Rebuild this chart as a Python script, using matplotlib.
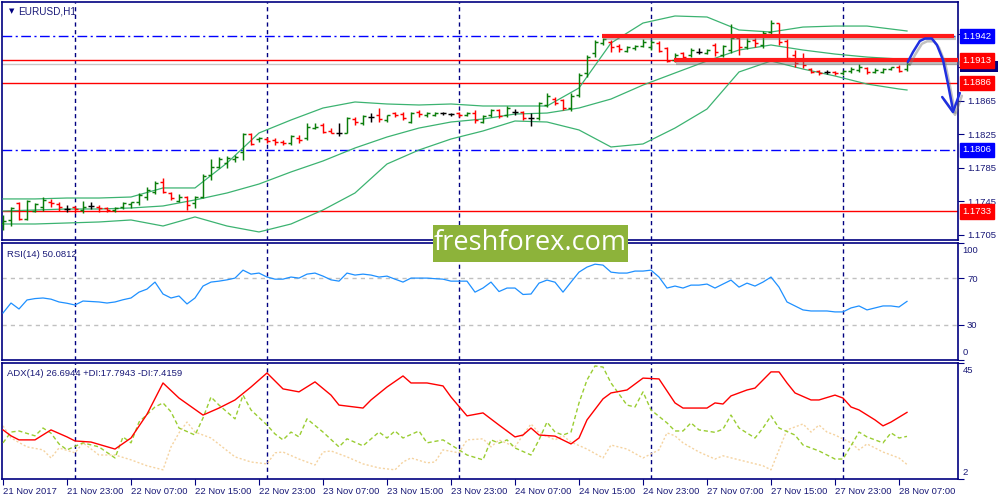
import matplotlib
matplotlib.use('Agg')
import matplotlib.pyplot as plt
import matplotlib.patheffects as pe
import matplotlib.transforms as mtransforms
from matplotlib.collections import LineCollection
from matplotlib.patches import Rectangle
import numpy as np

plt.rcParams['lines.scale_dashes'] = False
plt.rcParams['font.family'] = ['Liberation Sans', 'DejaVu Sans']

# ---------------- data ----------------
time_labels = ["21 Nov 2017", "21 Nov 23:00", "22 Nov 07:00", "22 Nov 15:00", "22 Nov 23:00",
               "23 Nov 07:00", "23 Nov 15:00", "23 Nov 23:00", "24 Nov 07:00", "24 Nov 15:00",
               "24 Nov 23:00", "27 Nov 07:00", "27 Nov 15:00", "27 Nov 23:00", "28 Nov 07:00"]
day_breaks = [9, 33, 57, 81, 105]

opens = [
    1.17189, 1.17225, 1.17428, 1.17237, 1.17332, 1.17380, 1.17440, 1.17416, 1.17356, 1.17380,
    1.17344, 1.17392, 1.17380, 1.17368, 1.17344, 1.17380, 1.17416, 1.17440, 1.17499, 1.17559,
    1.17678, 1.17547, 1.17452, 1.17499, 1.17428, 1.17499, 1.17762, 1.17857, 1.17905, 1.17952,
    1.18036, 1.18251, 1.18191, 1.18191, 1.18179, 1.18155, 1.18143, 1.18203, 1.18203, 1.18322,
    1.18358, 1.18287, 1.18263, 1.18263, 1.18430, 1.18382, 1.18454, 1.18478, 1.18418, 1.18501,
    1.18489, 1.18394, 1.18513, 1.18478, 1.18478, 1.18501, 1.18489, 1.18501, 1.18478, 1.18501,
    1.18394, 1.18478, 1.18537, 1.18478, 1.18513, 1.18513, 1.18442, 1.18442, 1.18597, 1.18668,
    1.18656, 1.18561, 1.18716, 1.18979, 1.19217, 1.19336, 1.19348, 1.19301, 1.19241, 1.19277,
    1.19301, 1.19289, 1.19336, 1.19277, 1.19134, 1.19217, 1.19193, 1.19229, 1.19217, 1.19313,
    1.19193, 1.19253, 1.19396, 1.19289, 1.19372, 1.19313, 1.19468, 1.19575, 1.19360, 1.19193,
    1.19134, 1.19026, 1.19002, 1.18991, 1.18991, 1.18979, 1.19002, 1.19014, 1.19038, 1.18991,
    1.18991, 1.19026, 1.19050, 1.19026]
highs = [
    1.17285, 1.17380, 1.17440, 1.17464, 1.17428, 1.17499, 1.17476, 1.17440, 1.17404, 1.17392,
    1.17452, 1.17440, 1.17404, 1.17380, 1.17380, 1.17440, 1.17440, 1.17547, 1.17619, 1.17690,
    1.17726, 1.17559, 1.17535, 1.17511, 1.17511, 1.17774, 1.17952, 1.17976, 1.17988, 1.18000,
    1.18263, 1.18263, 1.18215, 1.18215, 1.18203, 1.18179, 1.18239, 1.18239, 1.18382, 1.18382,
    1.18382, 1.18322, 1.18382, 1.18454, 1.18454, 1.18478, 1.18501, 1.18561, 1.18478, 1.18513,
    1.18513, 1.18513, 1.18537, 1.18513, 1.18513, 1.18513, 1.18501, 1.18513, 1.18513, 1.18537,
    1.18478, 1.18549, 1.18549, 1.18585, 1.18549, 1.18525, 1.18501, 1.18633, 1.18740, 1.18692,
    1.18668, 1.18740, 1.18979, 1.19193, 1.19372, 1.19396, 1.19372, 1.19325, 1.19301, 1.19313,
    1.19384, 1.19372, 1.19360, 1.19289, 1.19217, 1.19229, 1.19277, 1.19277, 1.19265, 1.19336,
    1.19313, 1.19563, 1.19408, 1.19396, 1.19396, 1.19480, 1.19611, 1.19575, 1.19384, 1.19253,
    1.19217, 1.19038, 1.19014, 1.19014, 1.19002, 1.19014, 1.19050, 1.19086, 1.19050, 1.19038,
    1.19038, 1.19050, 1.19074, 1.19110]
lows = [
    1.17106, 1.17153, 1.17225, 1.17225, 1.17320, 1.17332, 1.17380, 1.17332, 1.17320, 1.17308,
    1.17308, 1.17356, 1.17320, 1.17320, 1.17320, 1.17356, 1.17368, 1.17404, 1.17464, 1.17535,
    1.17547, 1.17464, 1.17440, 1.17344, 1.17368, 1.17487, 1.17702, 1.17845, 1.17845, 1.17917,
    1.17941, 1.18120, 1.18155, 1.18143, 1.18120, 1.18120, 1.18120, 1.18143, 1.18179, 1.18310,
    1.18263, 1.18263, 1.18227, 1.18263, 1.18358, 1.18358, 1.18394, 1.18394, 1.18394, 1.18454,
    1.18418, 1.18382, 1.18454, 1.18454, 1.18466, 1.18478, 1.18466, 1.18454, 1.18466, 1.18382,
    1.18382, 1.18454, 1.18442, 1.18454, 1.18478, 1.18418, 1.18346, 1.18418, 1.18573, 1.18597,
    1.18537, 1.18525, 1.18692, 1.18931, 1.19169, 1.19313, 1.19229, 1.19229, 1.19229, 1.19253,
    1.19289, 1.19253, 1.19229, 1.19110, 1.19110, 1.19134, 1.19169, 1.19205, 1.19205, 1.19181,
    1.19169, 1.19217, 1.19193, 1.19265, 1.19289, 1.19277, 1.19408, 1.19313, 1.19134, 1.19050,
    1.19038, 1.18979, 1.18955, 1.18967, 1.18955, 1.18955, 1.18979, 1.18991, 1.18967, 1.18979,
    1.18979, 1.19014, 1.18991, 1.19002]
closes = [
    1.17213, 1.17368, 1.17237, 1.17452, 1.17416, 1.17464, 1.17428, 1.17380, 1.17356, 1.17356,
    1.17380, 1.17392, 1.17368, 1.17344, 1.17368, 1.17428, 1.17440, 1.17523, 1.17583, 1.17666,
    1.17559, 1.17487, 1.17499, 1.17404, 1.17499, 1.17750, 1.17857, 1.17952, 1.17964, 1.17976,
    1.18251, 1.18132, 1.18203, 1.18167, 1.18155, 1.18143, 1.18227, 1.18179, 1.18334, 1.18334,
    1.18275, 1.18263, 1.18263, 1.18442, 1.18394, 1.18466, 1.18454, 1.18430, 1.18478, 1.18478,
    1.18442, 1.18501, 1.18489, 1.18501, 1.18501, 1.18501, 1.18489, 1.18478, 1.18501, 1.18418,
    1.18466, 1.18537, 1.18466, 1.18561, 1.18513, 1.18442, 1.18442, 1.18621, 1.18704, 1.18621,
    1.18561, 1.18704, 1.18955, 1.19169, 1.19348, 1.19384, 1.19289, 1.19265, 1.19289, 1.19301,
    1.19348, 1.19348, 1.19241, 1.19122, 1.19193, 1.19169, 1.19253, 1.19229, 1.19253, 1.19229,
    1.19301, 1.19396, 1.19289, 1.19360, 1.19336, 1.19456, 1.19575, 1.19348, 1.19158, 1.19098,
    1.19074, 1.18991, 1.18979, 1.18991, 1.18979, 1.19002, 1.19026, 1.19050, 1.18991, 1.19014,
    1.19026, 1.19050, 1.19002, 1.19086]

band_idx = [0, 4, 8, 12, 16, 20, 24, 28, 32, 36, 40, 44, 48, 52, 56, 60, 64, 68, 72, 76,
            80, 84, 88, 92, 96, 100, 104, 108, 112, 113]
bb_upper = [1.17476, 1.17476, 1.17487, 1.17487, 1.17499, 1.17607, 1.17607, 1.17905, 1.18263, 1.18418,
            1.18561, 1.18633, 1.18609, 1.18597, 1.18609, 1.18585, 1.18585, 1.18585, 1.18800, 1.19336,
            1.19575, 1.19659, 1.19647, 1.19492, 1.19468, 1.19527, 1.19539, 1.19539, 1.19492, 1.19480]
bb_middle = [1.17332, 1.17344, 1.17356, 1.17356, 1.17368, 1.17392, 1.17464, 1.17547, 1.17654, 1.17798,
             1.17929, 1.18084, 1.18215, 1.18322, 1.18394, 1.18430, 1.18489, 1.18501, 1.18561, 1.18668,
             1.18835, 1.18979, 1.19122, 1.19253, 1.19313, 1.19253, 1.19205, 1.19169, 1.19146, 1.19134]
bb_lower = [1.17177, 1.17177, 1.17189, 1.17201, 1.17225, 1.17153, 1.17261, 1.17153, 1.17082, 1.17177,
            1.17344, 1.17547, 1.17893, 1.18060, 1.18191, 1.18287, 1.18406, 1.18394, 1.18299, 1.18096,
            1.18132, 1.18322, 1.18549, 1.18991, 1.19122, 1.19026, 1.18943, 1.18847, 1.18788, 1.18776]

blue_levels = [1.1942, 1.1806]
red_levels = [1.1913, 1.1886, 1.1733]
price_ticks = [1.1705, 1.1745, 1.1785, 1.1825, 1.1865, 1.1905, 1.1945]
price_tick_labels = ["1.1705", "1.1745", "1.1785", "1.1825", "1.1865", "", ""]  # last two hidden under level boxes

rsi = [40.2, 48.7, 43.6, 51.3, 52.5, 53.0, 52.0, 49.6, 48.5, 47.0,
       50.4, 50.0, 49.6, 48.7, 49.6, 51.5, 53.0, 58.0, 60.6, 66.6,
       56.4, 53.0, 54.7, 47.9, 53.0, 63.2, 66.6, 67.4, 68.5, 70.0,
       76.8, 73.4, 74.3, 70.9, 69.1, 69.1, 70.9, 70.0, 73.4, 74.3,
       71.7, 68.5, 67.4, 74.3, 72.6, 73.4, 72.6, 70.9, 71.7, 69.1,
       66.6, 70.0, 70.0, 70.0, 69.5, 69.1, 67.4, 67.4, 67.4, 58.0,
       61.5, 66.6, 58.5, 61.5, 61.5, 56.0, 56.4, 65.7, 68.3, 66.5,
       58.0, 66.6, 75.1, 79.4, 81.9, 81.1, 75.1, 74.3, 74.3, 76.0,
       76.0, 76.8, 70.9, 61.5, 63.2, 61.5, 64.0, 64.0, 64.9, 61.5,
       64.9, 68.3, 62.3, 65.7, 63.2, 66.6, 70.9, 62.3, 49.6, 46.2,
       42.8, 41.9, 41.9, 41.9, 41.1, 41.1, 44.5, 46.2, 42.8, 44.5,
       46.2, 46.2, 45.3, 50.1]

adx_idx = [0, 1, 2, 4, 6, 8, 9, 11, 14, 16, 18, 20, 22, 25, 27, 29, 31, 33, 35, 37,
           39, 41, 42, 45, 46, 48, 50, 51, 53, 55, 56, 58, 60, 62, 64, 65, 66, 67, 69, 71,
           72, 73, 75, 76, 78, 80, 82, 84, 85, 88, 89, 90, 91, 93, 94, 95, 96, 97, 98, 99,
           101, 102, 104, 105, 106, 107, 109, 110, 111, 113]
adx_val = [20.2, 18.0, 16.5, 16.5, 20.2, 17.6, 16.1, 15.7, 13.1, 17.2, 26.0, 37.6, 32.0, 25.7, 28.3, 31.3, 36.1, 41.3, 35.4, 34.3,
           38.0, 33.1, 29.4, 28.3, 31.3, 36.1, 40.2, 37.6, 37.6, 36.5, 32.4, 25.4, 26.5, 22.0, 17.6, 18.3, 20.9, 18.3, 17.9, 15.0,
           17.2, 23.9, 31.7, 33.9, 35.0, 39.4, 39.1, 30.2, 28.3, 28.3, 30.2, 29.8, 32.8, 35.0, 35.7, 38.7, 41.7, 41.7, 37.6, 33.9,
           31.3, 31.3, 33.1, 32.0, 28.7, 27.6, 23.9, 21.7, 23.1, 26.7]

pdi_idx = [0, 1, 2, 4, 5, 6, 7, 8, 10, 12, 14, 15, 16, 17, 19, 20, 21, 22, 24, 25,
           26, 27, 29, 30, 31, 33, 34, 35, 36, 37, 38, 40, 42, 43, 45, 47, 48, 49, 50, 52,
           53, 55, 57, 58, 60, 61, 62, 63, 64, 66, 67, 68, 69, 70, 71, 72, 73, 74, 75, 76,
           78, 79, 80, 81, 83, 84, 85, 86, 87, 89, 90, 91, 92, 94, 95, 96, 97, 99, 100, 102,
           104, 105, 106, 107, 108, 110, 111, 112, 113]
pdi_val = [15.4, 19.4, 19.8, 18.0, 20.9, 19.0, 15.0, 12.8, 15.4, 13.9, 9.8, 17.6, 15.4, 23.1, 28.7, 30.2, 26.9, 20.9, 18.3, 24.6,
           32.4, 29.4, 24.3, 33.1, 27.6, 22.0, 18.7, 16.5, 19.4, 17.6, 24.3, 19.4, 13.9, 16.9, 14.3, 19.4, 17.2, 19.8, 17.2, 19.8,
           15.4, 16.5, 12.8, 10.9, 9.1, 16.5, 15.3, 16.5, 13.5, 10.9, 16.5, 23.1, 19.4, 18.3, 19.4, 30.2, 38.7, 43.9, 43.5, 37.6,
           29.4, 28.7, 34.3, 27.6, 22.8, 19.8, 19.8, 22.8, 20.2, 19.3, 20.5, 25.7, 20.9, 17.2, 20.9, 25.4, 20.9, 18.3, 14.6, 12.4,
           9.4, 9.4, 14.3, 19.4, 17.6, 15.4, 19.1, 17.2, 17.8]

mdi_idx = [0, 1, 3, 5, 6, 7, 9, 10, 12, 14, 16, 18, 20, 21, 22, 23, 24, 26, 29, 31,
           33, 34, 35, 37, 39, 40, 41, 43, 45, 47, 49, 50, 51, 53, 54, 55, 57, 58, 60, 61,
           62, 64, 65, 66, 67, 69, 70, 71, 73, 75, 76, 78, 80, 82, 83, 84, 85, 87, 89, 90,
           92, 95, 96, 97, 98, 100, 101, 102, 103, 104, 106, 107, 108, 110, 112, 113]
mdi_val = [21.7, 17.2, 13.9, 12.8, 9.8, 13.5, 11.7, 15.4, 10.9, 10.9, 9.1, 6.9, 5.4, 13.9, 19.1, 23.1, 19.4, 17.2, 10.2, 8.3,
           7.6, 11.7, 12.0, 9.4, 7.2, 12.0, 12.4, 10.2, 7.6, 6.1, 5.4, 8.3, 9.8, 8.0, 8.3, 12.8, 11.7, 16.5, 16.9, 13.9,
           16.5, 13.9, 18.3, 22.4, 19.1, 16.5, 18.0, 15.7, 13.1, 9.8, 14.6, 13.1, 9.8, 12.8, 19.1, 18.0, 15.4, 12.0, 9.4, 10.6,
           9.1, 6.9, 5.4, 12.8, 20.2, 22.4, 19.4, 22.0, 19.4, 18.3, 15.4, 12.8, 15.0, 12.0, 9.8, 7.4]

# hand-drawn annotations (bar index, price)
thick_lines = [((74.9, 118.9), 1.19425), ((83.9, 119.4), 1.19130)]
arrow_x = [113.1, 113.75, 114.6, 115.25, 116.1, 116.75, 117.5, 118.1, 118.75]
arrow_y = [1.19110, 1.19229, 1.19360, 1.19390, 1.19390, 1.19313, 1.19134, 1.18859, 1.18537]
arrow_head_x = [117.4, 118.75, 119.6]
arrow_head_y = [1.18692, 1.18513, 1.18740]

# ---------------- styling ----------------
NAVY = '#000080'
TXT = '#1a1a78'
BULL = '#0a7d0a'
BEAR = '#ff0000'
DOJI = '#000000'
BB = '#3cb371'
FS = 6.8

W, H = 1000, 500
fig = plt.figure(figsize=(10, 5), dpi=100)
fig.patch.set_facecolor('white')


def rect(l, t, r, b):
    return [l / W, 1 - b / H, (r - l) / W, (b - t) / H]


ax = fig.add_axes(rect(2, 2, 958, 240))
ax_rsi = fig.add_axes(rect(2, 243, 958, 360), sharex=ax)
ax_adx = fig.add_axes(rect(2, 363, 958, 479), sharex=ax)

n = len(closes)
for a in (ax, ax_rsi, ax_adx):
    for s in a.spines.values():
        s.set_color(NAVY)
        s.set_linewidth(1.2)
    a.yaxis.tick_right()
    a.tick_params(axis='y', direction='out', length=4, width=0.8, color=NAVY,
                  labelsize=FS, labelcolor=TXT, pad=2.5)
    for b in day_breaks:
        a.axvline(b, color=NAVY, lw=1.0, ls=(0, (3, 2.5)), zorder=1)
ax.set_xlim(-0.125, 119.375)

# ---- main price panel ----
ax.set_ylim(1.16986, 1.19826)
ax.set_yticks(price_ticks)
ax.set_yticklabels(price_tick_labels)
ax.tick_params(axis='x', bottom=False, labelbottom=False)

for lv in blue_levels:
    ax.axhline(lv, color='#0000ff', lw=1.0, ls=(0, (7, 2.5, 1.5, 2.5)), zorder=2)
for lv in red_levels:
    ax.axhline(lv, color='#ff0000', lw=1.0, zorder=2)
ax.axhline(closes[-1], color='#c8c8c8', lw=1.0, zorder=1.5)

bi = np.array(band_idx)
for band in (bb_upper, bb_middle, bb_lower):
    ax.plot(bi, band, color=BB, lw=0.9, zorder=3)

segs, cols = [], []
for i, (o, h, l, c) in enumerate(zip(opens, highs, lows, closes)):
    col = BULL if c > o else (BEAR if c < o else DOJI)
    segs += [[(i, l), (i, h)], [(i - 0.375, o), (i, o)], [(i, c), (i + 0.375, c)]]
    cols += [col] * 3
ax.add_collection(LineCollection(segs, colors=cols, linewidths=1.05, zorder=4))

shadow = [pe.SimpleLineShadow(offset=(1.5, -2), shadow_color='#777777', alpha=0.45), pe.Normal()]
for (x0, x1), lv in thick_lines:
    ax.plot([x0, x1], [lv, lv], color='#ff1a1a', lw=3.0, solid_capstyle='butt',
            path_effects=shadow, zorder=6, clip_on=False)
ax.plot(arrow_x, arrow_y, color='#1f2fe0', lw=1.8, path_effects=shadow, zorder=7,
        clip_on=False, solid_capstyle='round', solid_joinstyle='round')
ax.plot(arrow_head_x, arrow_head_y, color='#1f2fe0', lw=1.8, path_effects=shadow, zorder=7,
        clip_on=False, solid_capstyle='round', solid_joinstyle='round')

# price labels on the right axis
tr = mtransforms.blended_transform_factory(fig.transFigure, ax.transData)
# current-price marker (mostly hidden behind the 1.1913 label, as in the terminal)
ax.add_patch(Rectangle((0.960, closes[-1] - 0.00090), 0.038, 0.00125, transform=tr,
                       facecolor=NAVY, edgecolor='none', clip_on=False, zorder=9))
box_labels = [(1.1942, '#0000ff'), (1.1806, '#0000ff'), (1.1886, '#ff0000'), (1.1733, '#ff0000'),
              (1.1913, '#ff0000')]
for k, (lv, colr) in enumerate(box_labels):
    ax.text(0.9625, lv, f"{lv:.4f}", transform=tr, ha='left', va='center',
            fontsize=FS, color='white', zorder=10 + k, clip_on=False,
            bbox=dict(boxstyle='square,pad=0.3', fc=colr, ec=colr))

ax.text(0.0075, 0.975, "\u25bc", transform=ax.transAxes, fontsize=5, color=NAVY,
        va='top', ha='left', family='DejaVu Sans')
ax.text(0.017, 0.98, "EURUSD,H1", transform=ax.transAxes, fontsize=FS + 0.4, color=TXT,
        va='top', ha='left')

# ---- RSI panel ----
ax_rsi.set_ylim(0, 100)
ax_rsi.plot(np.arange(n), rsi, color='#1e90ff', lw=0.9, zorder=3)
for lv in (70, 30):
    ax_rsi.axhline(lv, color='#c0c0c0', lw=1.0, ls=(0, (3, 3)), zorder=1)
ax_rsi.set_yticks([0, 30, 70, 100])
ax_rsi.set_yticklabels(['', '30', '70', ''])
ax_rsi.tick_params(axis='x', bottom=False, labelbottom=False)
rt = mtransforms.blended_transform_factory(ax_rsi.transAxes, ax_rsi.transData)
ax_rsi.text(1.0047, 94, "100", transform=rt, fontsize=FS, color=TXT, va='center', ha='left', clip_on=False)
ax_rsi.text(1.0047, 6, "0", transform=rt, fontsize=FS, color=TXT, va='center', ha='left', clip_on=False)
ax_rsi.text(0.005, 0.94, "RSI(14) 50.0812", transform=ax_rsi.transAxes, fontsize=FS,
            color=TXT, va='top', ha='left')

# ---- ADX panel ----
ax_adx.set_ylim(2, 45)
ax_adx.plot(mdi_idx, mdi_val, color='#f5d3a0', lw=1.0, ls=(0, (1.5, 1.5)), zorder=2)
ax_adx.plot(pdi_idx, pdi_val, color='#9acd32', lw=1.0, ls=(0, (3, 2)), zorder=3)
ax_adx.plot(adx_idx, adx_val, color='#ff0000', lw=1.0, zorder=4)
ax_adx.set_yticks([2, 45])
ax_adx.set_yticklabels(['', ''])
bt = mtransforms.blended_transform_factory(ax_adx.transAxes, ax_adx.transData)
ax_adx.text(1.0047, 42.4, "45", transform=bt, fontsize=FS, color=TXT, va='center', ha='left', clip_on=False)
ax_adx.text(1.0047, 4.3, "2", transform=bt, fontsize=FS, color=TXT, va='center', ha='left', clip_on=False)
ax_adx.text(0.005, 0.95, "ADX(14) 26.6944 +DI:17.7943 -DI:7.4159", transform=ax_adx.transAxes,
            fontsize=FS, color=TXT, va='top', ha='left')

tick_pos = list(range(0, 8 * len(time_labels), 8))
ax_adx.set_xticks(tick_pos)
ax_adx.set_xticklabels(time_labels)
ax_adx.tick_params(axis='x', direction='out', length=4, width=0.8, color=NAVY,
                   labelsize=FS, labelcolor=TXT, pad=2)
for lab in ax_adx.get_xticklabels():
    lab.set_horizontalalignment('left')

# ---- watermark ----
fig.patches.append(Rectangle((433 / W, 1 - 262 / H), 195 / W, 37 / H, transform=fig.transFigure,
                             facecolor='#8db33a', edgecolor='none', zorder=20))
fig.text(530.5 / W, 1 - 243.5 / H, "freshforex.com", fontsize=19.5, color='white', ha='center',
         va='center', family=['Open Sans', 'DejaVu Sans'], zorder=21)

fig.savefig('out.png', dpi=100, facecolor='white')
